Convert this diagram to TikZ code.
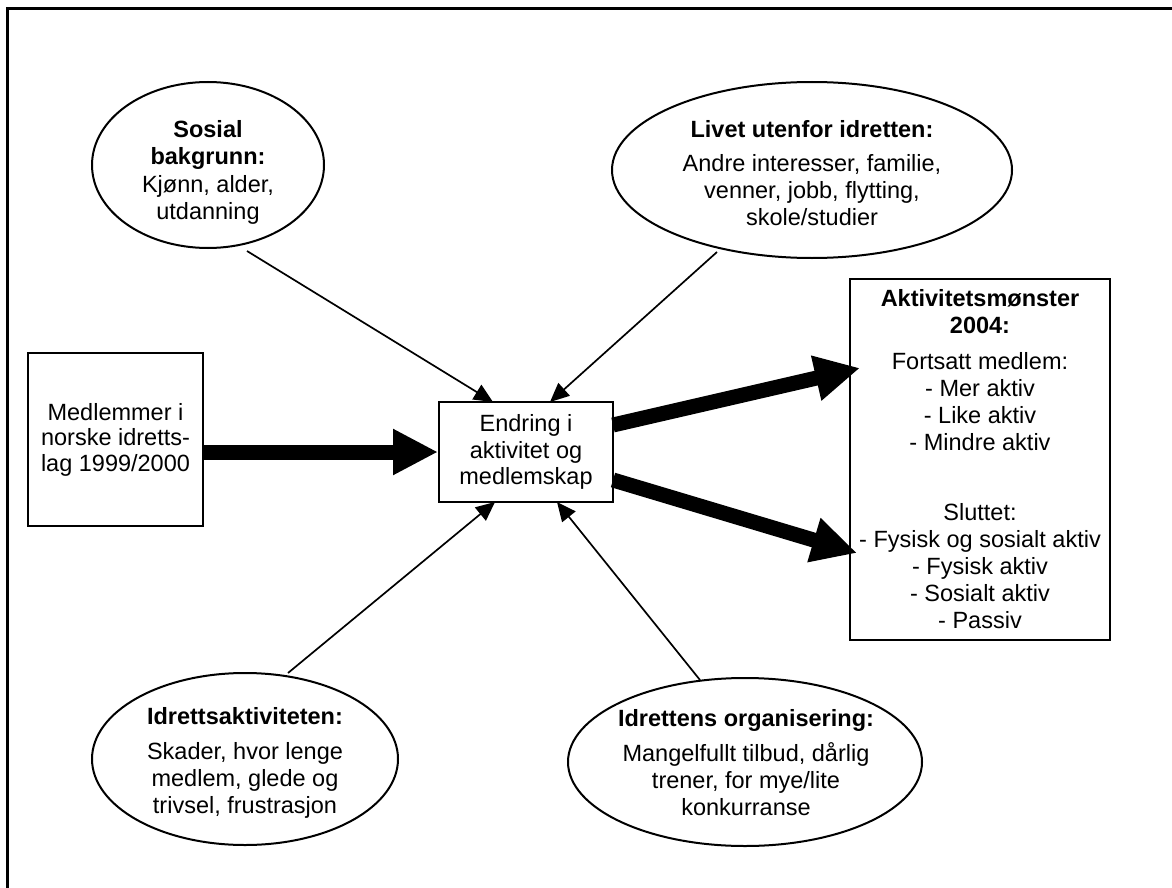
\documentclass[tikz,border=0pt]{standalone}
\usepackage{fontspec}
\setmainfont{Liberation Sans}
\usetikzlibrary{arrows.meta,shapes.geometric}
\begin{document}
\begin{tikzpicture}[x=1pt,y=-1pt,
  txt/.style={inner sep=0pt, align=center, font=\fontsize{23.5}{27}\selectfont},
  box/.style={draw, line width=2pt, inner sep=0pt, align=center, font=\fontsize{23.5}{26.5}\selectfont},
  ell/.style={draw, ellipse, line width=2pt, inner sep=0pt},
  bigarrow/.style={line width=15pt, -{Triangle[length=45pt,width=43pt]}},
  thinarrow/.style={line width=1.7pt, -{Triangle[length=19pt,width=17pt]}},
  frameline/.style={line width=3pt}
]
\useasboundingbox (0,0) rectangle (1172,888);
% frame (cropped at right and bottom)
\draw[frameline] (7,888) -- (7,9) -- (1172,9);

% boxes
\node[box, minimum width=175pt, minimum height=173pt, font=\fontsize{23.5}{25.5}\selectfont] (med) at (115.5,439.5)
  {Medlemmer i\\norske idretts-\\lag 1999/2000};
\node[box, minimum width=174pt, minimum height=100pt] (endr) at (526,452)
  {Endring i\\aktivitet og\\medlemskap};
\node[box, minimum width=260pt, minimum height=361pt, font=\fontsize{23.5}{27}\selectfont] (akt) at (980,459.5)
  {\textbf{Aktivitetsmønster}\\\textbf{2004:}\\[9pt]Fortsatt medlem:\\- Mer aktiv\\- Like aktiv\\- Mindre aktiv\\[43pt]Sluttet:\\- Fysisk og sosialt aktiv\\- Fysisk aktiv\\- Sosialt aktiv\\- Passiv};

% ellipses
\node[ell, minimum width=232pt, minimum height=166pt] (sos) at (208,165) {};
\node[txt] (sost) at (208,172) {\textbf{Sosial}\\\textbf{bakgrunn:}\\[1pt]Kjønn, alder,\\utdanning};

\node[ell, minimum width=400pt, minimum height=176pt] (liv) at (812,170) {};
\node[txt] (livt) at (812,173) {\textbf{Livet utenfor idretten:}\\[7pt]Andre interesser, familie,\\venner, jobb, flytting,\\skole/studier};

\node[ell, minimum width=306pt, minimum height=172pt] (ida) at (245,759) {};
\node[txt] (idat) at (245,763) {\textbf{Idrettsaktiviteten:}\\[8pt]Skader, hvor lenge\\medlem, glede og\\trivsel, frustrasjon};

\node[ell, minimum width=354pt, minimum height=168pt] (org) at (745,762) {};
\node[txt] (orgt) at (746,763) {\textbf{Idrettens organisering:}\\[8pt]Mangelfullt tilbud, dårlig\\trener, for mye/lite\\konkurranse};

% connector end points
\coordinate (sosS) at (247,251);
\coordinate (sosE) at (493,402);
\coordinate (livS) at (717,252);
\coordinate (livE) at (550,402);
\coordinate (idaS) at (288,673);
\coordinate (idaE) at (495,502);
\coordinate (orgS) at (700,680);
\coordinate (orgE) at (557,502);
\coordinate (upS) at (613,425);
\coordinate (upE) at (860,368);
\coordinate (dnS) at (613,480);
\coordinate (dnE) at (857,553);

% thick arrows
\draw[bigarrow] (med.east |- endr.west) -- (endr.west);
\draw[bigarrow] (upS) -- (upE);
\draw[bigarrow] (dnS) -- (dnE);

% thin arrows
\draw[thinarrow] (sosS) -- (sosE);
\draw[thinarrow] (livS) -- (livE);
\draw[thinarrow] (idaS) -- (idaE);
\draw[thinarrow] (orgS) -- (orgE);
\end{tikzpicture}
\end{document}
